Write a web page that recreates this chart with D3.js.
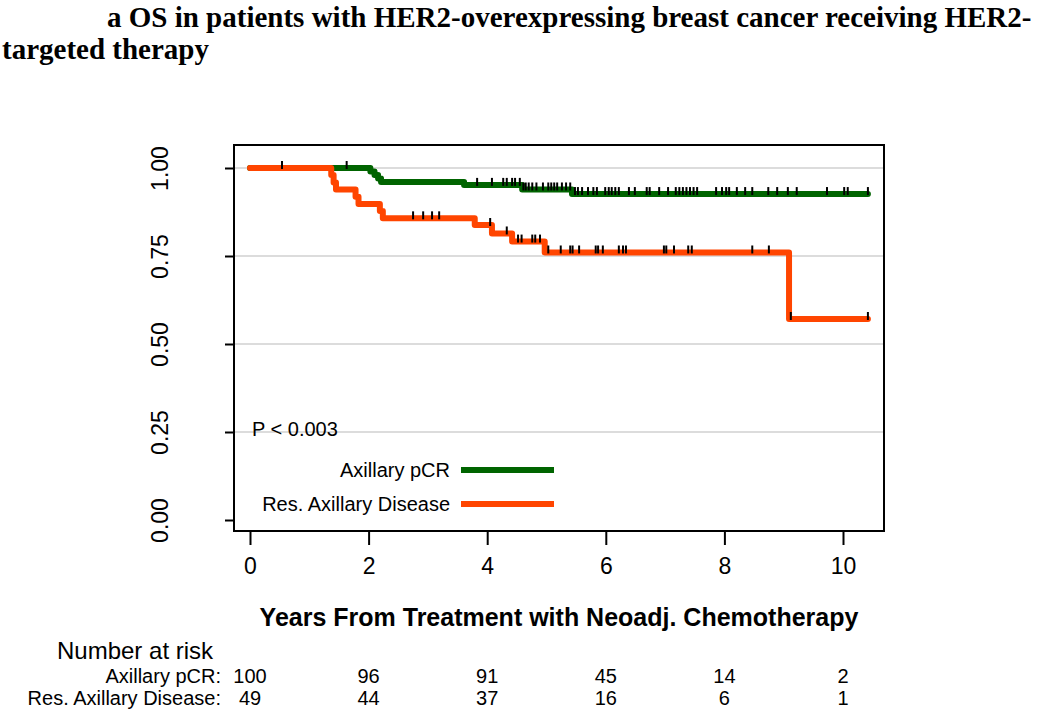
<!DOCTYPE html>
<html><head><meta charset="utf-8">
<script src="https://cdn.jsdelivr.net/npm/d3@7"></script>
<style>
html,body{margin:0;padding:0;background:#fff;}
svg{display:block;}
</style></head>
<body>
<svg id="chart" width="1050" height="709"></svg>
<script>
// ---- data ----
const titleLines = ["a OS in patients with HER2-overexpressing breast cancer receiving HER2-", "targeted therapy"];
const xTicks = [0, 2, 4, 6, 8, 10];
const yTicks = [0, 0.25, 0.5, 0.75, 1];
const seriesNames = ["Axillary pCR", "Res. Axillary Disease"];
const seriesColors = ["#006400", "#FF4500"];
// event times (years) and survival after each event
const pcrTimes = [2.03, 2.10, 2.16, 2.21, 3.61, 4.59, 5.43];
const pcrSurv  = [0.990, 0.980, 0.970, 0.960, 0.952, 0.939, 0.926];
const pcrEnd = 10.42;
const pcrCensor = [0.54, 1.63, 3.83, 4.08, 4.27, 4.33, 4.42, 4.47, 4.55, 4.61, 4.65, 4.70, 4.76, 4.83, 4.94, 5.03, 5.08, 5.13, 5.18, 5.26, 5.33, 5.40,
  5.48, 5.53, 5.60, 5.70, 5.79, 5.85, 5.99, 6.05, 6.10, 6.16, 6.22, 6.39, 6.49, 6.69, 6.74, 6.90, 7.05, 7.18, 7.24, 7.30, 7.36, 7.42, 7.48, 7.54,
  7.86, 7.96, 8.03, 8.08, 8.21, 8.35, 8.47, 8.74, 8.89, 9.07, 9.22, 9.73, 10.02, 10.08, 10.42];
const resTimes = [1.37, 1.41, 1.45, 1.78, 1.83, 2.19, 2.24, 3.79, 4.08, 4.42, 4.97, 9.09];
const resSurv  = [0.980, 0.959, 0.939, 0.918, 0.898, 0.878, 0.857, 0.838, 0.814, 0.791, 0.760, 0.571];
const resEnd = 10.42;
const resCensor = [2.75, 2.92, 3.07, 3.19, 4.05, 4.33, 4.52, 4.58, 4.76, 4.81, 4.89, 5.03, 5.24, 5.40, 5.44, 5.55, 5.83, 5.87, 5.95,
  6.22, 6.29, 6.34, 6.98, 7.02, 7.15, 7.39, 7.45, 8.47, 8.75, 9.12, 10.42];
const riskTimes = [0, 2, 4, 6, 8, 10];
const riskPcr = [100, 96, 91, 45, 14, 2];
const riskRes = [49, 44, 37, 16, 6, 1];
const pLabel = "P < 0.003";
const xLabel = "Years From Treatment with Neoadj. Chemotherapy";

// ---- layout ----
const svg = d3.select("#chart");
const sans = "'Liberation Sans', Arial, Helvetica, sans-serif";
const serif = "'Liberation Serif', 'Times New Roman', serif";
const box = {left: 234, right: 884, top: 145, bottom: 531};
const x = d3.scaleLinear().domain([0, 10]).range([250, 843]);
const y = d3.scaleLinear().domain([0, 1]).range([520, 168]);

// title
svg.append("text").attr("x", 107).attr("y", 27).attr("font-family", serif).attr("font-weight", "bold")
  .attr("font-size", 29).attr("fill", "#000").text(titleLines[0]);
svg.append("text").attr("x", 2).attr("y", 59).attr("font-family", serif).attr("font-weight", "bold")
  .attr("font-size", 29).attr("fill", "#000").text(titleLines[1]);

// gridlines
svg.append("g").selectAll("line").data(yTicks.filter(d => d > 0)).join("line")
  .attr("x1", box.left).attr("x2", box.right)
  .attr("y1", d => y(d)).attr("y2", d => y(d))
  .attr("stroke", "#dcdcdc").attr("stroke-width", 2);

// curves
function stepPoints(times, surv, end) {
  const pts = [[0, 1]];
  times.forEach((t, i) => pts.push([t, surv[i]]));
  pts.push([end, surv[surv.length - 1]]);
  return pts;
}
function survAt(times, surv, t) {
  let s = 1;
  times.forEach((tt, i) => { if (tt <= t) s = surv[i]; });
  return s;
}
const line = d3.line().x(d => x(d[0])).y(d => y(d[1])).curve(d3.curveStepAfter);
const series = [
  {times: pcrTimes, surv: pcrSurv, end: pcrEnd, censor: pcrCensor, color: seriesColors[0]},
  {times: resTimes, surv: resSurv, end: resEnd, censor: resCensor, color: seriesColors[1]}
];
series.forEach(s => {
  svg.append("path").datum(stepPoints(s.times, s.surv, s.end))
    .attr("d", line).attr("fill", "none").attr("stroke", s.color)
    .attr("stroke-width", 6).attr("stroke-linejoin", "round").attr("stroke-linecap", "round");
});
series.forEach(s => {
  svg.append("g").selectAll("line").data(s.censor).join("line")
    .attr("x1", d => x(d)).attr("x2", d => x(d))
    .attr("y1", d => y(survAt(s.times, s.surv, d)) - 7)
    .attr("y2", d => y(survAt(s.times, s.surv, d)) + 1)
    .attr("stroke", "#000").attr("stroke-width", 2);
});

// box
svg.append("rect").attr("x", box.left).attr("y", box.top)
  .attr("width", box.right - box.left).attr("height", box.bottom - box.top)
  .attr("fill", "none").attr("stroke", "#000").attr("stroke-width", 2);

// axes
const yAxis = svg.append("g").attr("transform", `translate(${box.left},0)`)
  .call(d3.axisLeft(y).tickValues(yTicks).tickFormat(d3.format(".2f")).tickSize(9));
yAxis.select(".domain").remove();
yAxis.selectAll(".tick line").attr("stroke", "#000").attr("stroke-width", 2);
yAxis.selectAll(".tick text").attr("transform", "rotate(-90)").attr("x", 0).attr("y", -66).attr("dy", 0)
  .attr("text-anchor", "middle").attr("font-family", sans).attr("font-size", 23).attr("fill", "#000");

const xAxis = svg.append("g").attr("transform", `translate(0,${box.bottom})`)
  .call(d3.axisBottom(x).tickValues(xTicks).tickFormat(d3.format("d")).tickSize(14));
xAxis.select(".domain").remove();
xAxis.selectAll(".tick line").attr("stroke", "#000").attr("stroke-width", 2);
xAxis.selectAll(".tick text").attr("y", 43).attr("dy", 0)
  .attr("font-family", sans).attr("font-size", 23).attr("fill", "#000");

// x label
svg.append("text").attr("x", 559).attr("y", 626).attr("text-anchor", "middle")
  .attr("font-family", sans).attr("font-weight", "bold").attr("font-size", 25).attr("fill", "#000").text(xLabel);

// p label
svg.append("text").attr("x", 252).attr("y", 436).attr("font-family", sans).attr("font-size", 20).attr("fill", "#000").text(pLabel);

// legend
const legY = [470, 504];
seriesNames.forEach((n, i) => {
  svg.append("text").attr("x", 450).attr("y", legY[i] + 7).attr("text-anchor", "end")
    .attr("font-family", sans).attr("font-size", 20).attr("fill", "#000").text(n);
  svg.append("line").attr("x1", 461).attr("x2", 554).attr("y1", legY[i]).attr("y2", legY[i])
    .attr("stroke", seriesColors[i]).attr("stroke-width", 6);
});

// risk table
svg.append("text").attr("x", 57).attr("y", 659).attr("font-family", sans).attr("font-size", 24).attr("fill", "#000").text("Number at risk");
const rows = [{label: seriesNames[0] + ":", vals: riskPcr, yy: 683}, {label: seriesNames[1] + ":", vals: riskRes, yy: 705}];
rows.forEach(r => {
  svg.append("text").attr("x", 221).attr("y", r.yy).attr("text-anchor", "end")
    .attr("font-family", sans).attr("font-size", 20).attr("fill", "#000").text(r.label);
  svg.append("g").selectAll("text").data(r.vals).join("text")
    .attr("x", (d, i) => x(riskTimes[i])).attr("y", r.yy).attr("text-anchor", "middle")
    .attr("font-family", sans).attr("font-size", 20).attr("fill", "#000").text(d => d);
});
</script>
</body></html>
